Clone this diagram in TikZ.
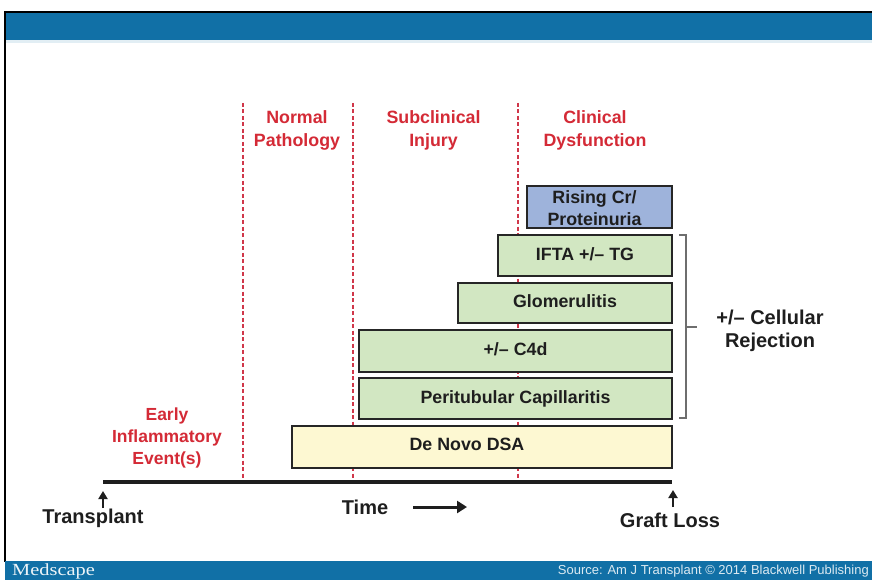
\documentclass[tikz,border=0pt]{standalone}
\usepackage{fontspec}
\setmainfont{Liberation Sans}
\newfontfamily\logofont{Liberation Serif}
\usetikzlibrary{arrows.meta}
\definecolor{bandblue}{HTML}{1170A6}
\definecolor{hdred}{HTML}{D42A36}
\definecolor{dashred}{HTML}{D0374A}
\definecolor{boxgreen}{HTML}{D2E7C2}
\definecolor{boxblue}{HTML}{9EB3DB}
\definecolor{boxyellow}{HTML}{FDF8D2}
\definecolor{txt}{HTML}{1E1E1E}
\definecolor{brk}{HTML}{6E6E6E}
\begin{document}
\begin{tikzpicture}[x=1pt,y=-1pt,
  bar/.style={draw=black!85, line width=2pt, fill=boxgreen, inner sep=0pt, anchor=north west,
    font=\bfseries\fontsize{17.8}{21}\selectfont, text=txt, text height=12pt, text depth=3pt},
  boxlbl/.style={font=\bfseries\fontsize{17.8}{22}\selectfont, text=txt, align=center, inner sep=0pt},
  hdr/.style={text=hdred, font=\bfseries\fontsize{17.8}{23}\selectfont, align=center, inner sep=0pt},
  lbl/.style={font=\bfseries\fontsize{20}{23}\selectfont, text=txt, align=center, inner sep=0pt},
  sep/.style={draw=dashred, line width=2pt, dash pattern=on 4pt off 2.5pt},
  uparrow/.style={-{Triangle[length=8pt,width=9pt]}, line width=2.3pt, draw=txt},
  timearrow/.style={-{Triangle[length=10pt,width=12pt]}, line width=3pt, draw=txt}]
\clip (0,0) rectangle (872,580);
\fill[white] (0,0) rectangle (872,580);
% frame and bands
\fill[bandblue] (5,12) rectangle (872,40);
\fill[bandblue!12] (5,40) rectangle (872,43);
\draw[black, line width=1.2pt] (872,12) -- (5,12) -- (5,562);
\fill[bandblue] (5,561) rectangle (872,580);
\node[anchor=west, text=white!92!bandblue, font=\logofont\fontsize{17}{17}\selectfont, xscale=1.2, transform shape, inner sep=0pt] (logo) at (12,571) {Medscape};
\node[anchor=east, text=white!85!bandblue, font=\fontsize{13}{13}\selectfont, inner sep=0pt] (src) at (869,571.5) {Source: Am J Transplant \textcopyright{} 2014 Blackwell Publishing};
% dashed separators
\coordinate (s1t) at (243,103); \coordinate (s1b) at (243,480);
\coordinate (s2t) at (352.5,103); \coordinate (s2b) at (352.5,480);
\coordinate (s3t) at (518,103); \coordinate (s3b) at (518,480);
\draw[sep] (s1t) -- (s1b);
\draw[sep] (s2t) -- (s2b);
\draw[sep] (s3t) -- (s3b);
% headings
\node[hdr] (normal) at (297,130.5) {Normal\\Pathology};
\node[hdr] (subcl) at (433.5,130.5) {Subclinical\\Injury};
\node[hdr] (clin) at (595,130.5) {Clinical\\Dysfunction};
\node[hdr, font=\bfseries\fontsize{17.5}{22}\selectfont] (early) at (167,438) {Early\\Inflammatory\\Event(s)};
% boxes
\node[bar, fill=boxblue, minimum width=145pt, minimum height=42pt] (rising) at (526,185) {};
\node[boxlbl] (risinglbl) at (594.5,208) {Rising Cr/\\Proteinuria};
\node[bar, minimum width=174pt, minimum height=41pt] (ifta) at (497,234) {IFTA +/\textendash{} TG};
\node[bar, minimum width=214pt, minimum height=40pt] (glom) at (457,282) {Glomerulitis};
\node[bar, minimum width=313pt, minimum height=42pt] (c4d) at (358,329) {+/\textendash{} C4d};
\node[bar, minimum width=313pt, minimum height=41pt] (ptc) at (358,377) {Peritubular Capillaritis};
\node[bar, fill=boxyellow, minimum width=380pt, minimum height=42pt] (dsa) at (291,425) {};
\node[boxlbl, text height=12pt, text depth=3pt] (dsalbl) at (467,446) {De Novo DSA};
% bracket
\coordinate (b1) at (679,235); \coordinate (b2) at (686,235);
\coordinate (b3) at (686,418); \coordinate (b4) at (679,418);
\coordinate (bm) at (686,327); \coordinate (bt) at (697,327);
\draw[brk, line width=1.5pt] (b1) -- (b2) -- (b3) -- (b4);
\draw[brk, line width=1.5pt] (bm) -- (bt);
\node[lbl] (cell) at (770,331) {+/\textendash{} Cellular\\Rejection};
% timeline
\coordinate (tl0) at (103,481.5); \coordinate (tl1) at (672,481.5);
\draw[line width=4pt, txt] (tl0) -- (tl1);
\coordinate (ua0) at (103,508); \coordinate (ua1) at (103,491);
\draw[uparrow] (ua0) -- (ua1);
\coordinate (ub0) at (673,507); \coordinate (ub1) at (673,490);
\draw[uparrow] (ub0) -- (ub1);
\node[lbl, font=\bfseries\fontsize{20}{23}\selectfont] (transplant) at (93,518) {Transplant};
\node[lbl, font=\bfseries\fontsize{20}{23}\selectfont] (graft) at (670,520) {Graft Loss};
\node[lbl, font=\bfseries\fontsize{20}{23}\selectfont] (time) at (365,507) {Time};
\coordinate (ta0) at (413,507); \coordinate (ta1) at (467,507);
\draw[timearrow] (ta0) -- (ta1);
\end{tikzpicture}
\end{document}
